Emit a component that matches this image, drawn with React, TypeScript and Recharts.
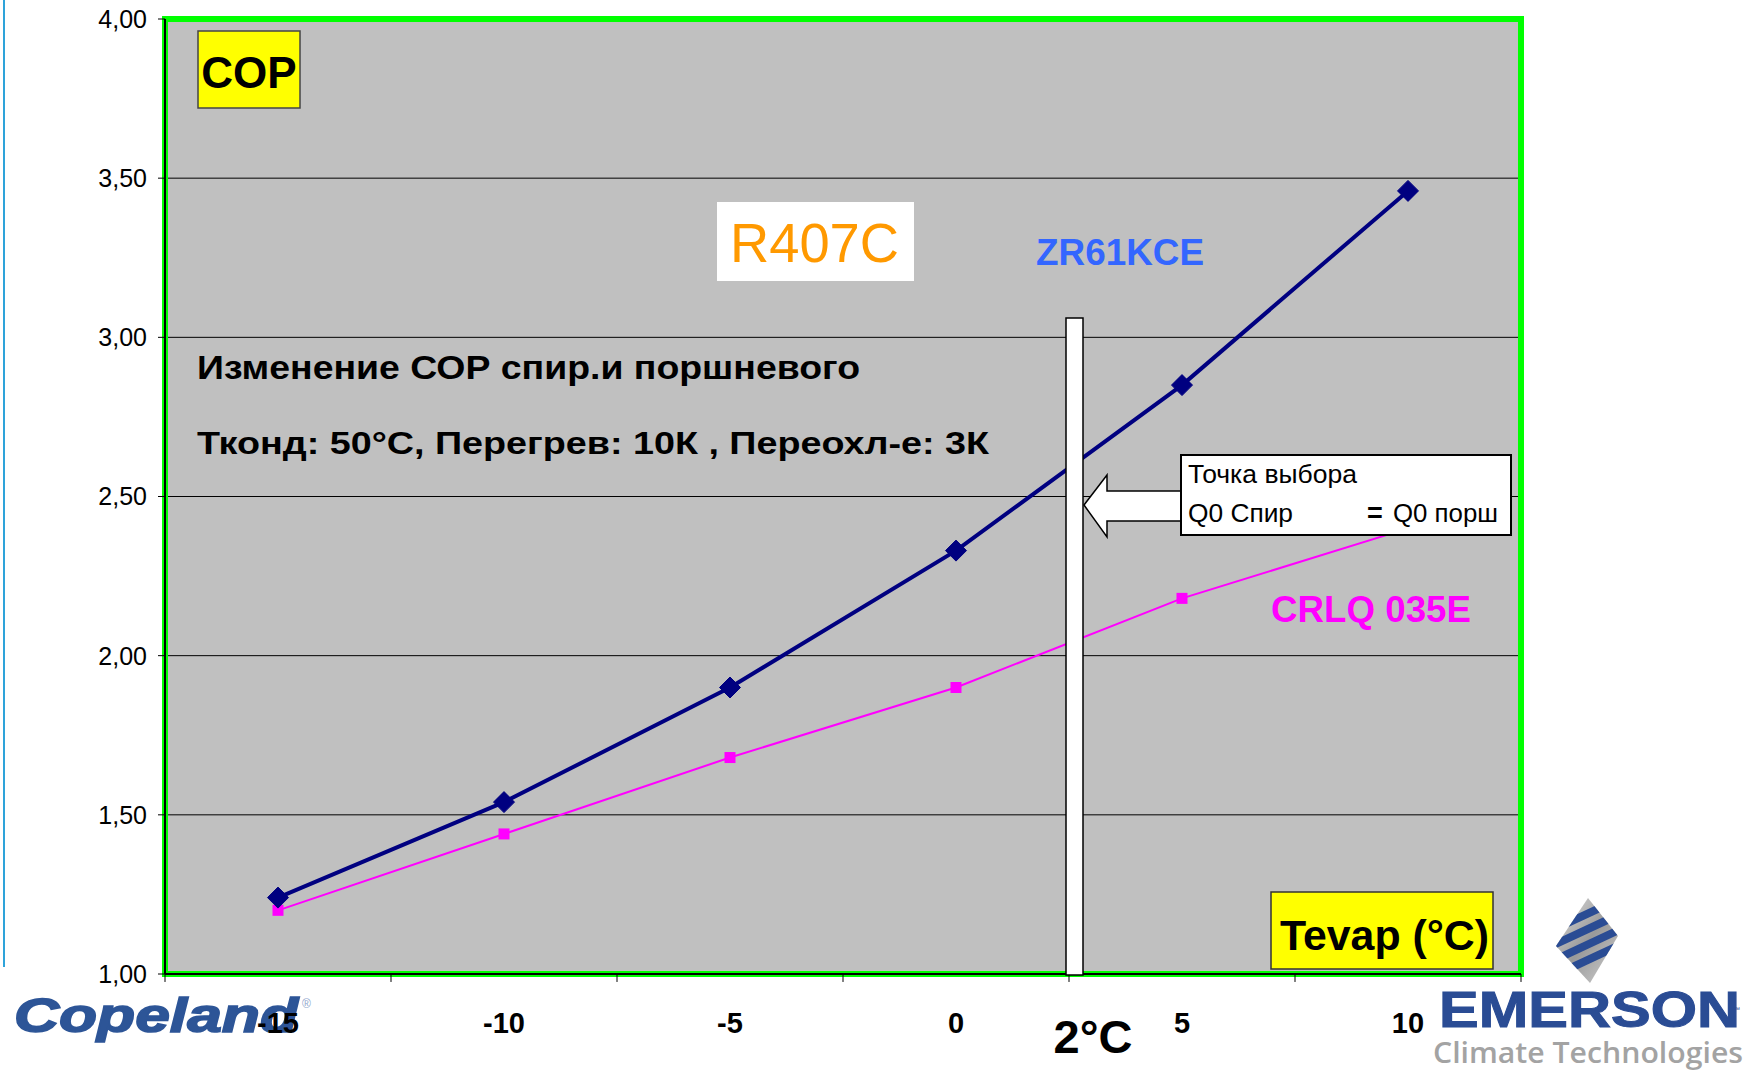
import React from 'react';
import { LineChart, Line, XAxis, YAxis, CartesianGrid, ReferenceArea, ReferenceLine } from 'recharts';

const tevap = [-15, -10, -5, 0, 5, 10];
const zr61kce = [1.24, 1.54, 1.9, 2.33, 2.85, 3.46];
const crlq035e = [1.2, 1.44, 1.68, 1.9, 2.18, 2.4];
const xLabelTicks = [-15, -10, -5, 0, 5, 10];
const xMarkTicks = [-17.5, -12.5, -7.5, -2.5, 2.5, 7.5, 12.5];
const yTicks = [1, 1.5, 2, 2.5, 3, 3.5, 4];
const xDomain = [-17.5, 12.5];
const yDomain = [1, 4];
const tickMarkBottom = 0.975;

const data = tevap.map((t, i) => ({ t, zr: zr61kce[i], crlq: crlq035e[i] }));

const FONT = '"Liberation Sans", Arial, Helvetica, sans-serif';

const Diamond = (props: any) => {
  const { cx, cy, index } = props;
  if (cx == null || cy == null) return <g key={`d${index}`} />;
  const r = 10.5;
  return (
    <polygon
      key={`d${index}`}
      points={`${cx},${cy - r} ${cx + r},${cy} ${cx},${cy + r} ${cx - r},${cy}`}
      fill="#000080"
      stroke="#000080"
    />
  );
};

const Square = (props: any) => {
  const { cx, cy, index } = props;
  if (cx == null || cy == null) return <g key={`s${index}`} />;
  const h = 5.5;
  return <rect key={`s${index}`} x={cx - h} y={cy - h} width={2 * h} height={2 * h} fill="#FF00FF" />;
};

const fmtY = (v: number) => v.toFixed(2).replace('.', ',');

export default function App() {
  return (
    <div style={{ position: 'absolute', left: 0, top: 0, width: 1751, height: 1071, background: '#fff', overflow: 'hidden' }}>
      {/* logos under chart */}
      <svg width={1751} height={1071} style={{ position: 'absolute', left: 0, top: 0 }}>
        <line x1={4} y1={0} x2={4} y2={967} stroke="#2EA3DA" strokeWidth={2} />
        <text x={14} y={1032} fontFamily={FONT} fontSize={48} fontWeight={900} fontStyle="italic" fill="#2D5597" stroke="#2D5597" strokeWidth={1.6} textLength={284} lengthAdjust="spacingAndGlyphs">Copeland</text>
        <text x={302} y={1008} fontFamily={FONT} fontSize={12} fill="#8FA6CC">®</text>
        <defs>
          <clipPath id="emclip">
            <polygon points="1588,898 1618,936 1590,983 1556,946" />
          </clipPath>
          <linearGradient id="silver" x1="0" y1="0" x2="1" y2="1">
            <stop offset="0" stopColor="#E8E8E8" />
            <stop offset="0.5" stopColor="#9A9A9A" />
            <stop offset="1" stopColor="#D8D8D8" />
          </linearGradient>
        </defs>
        <g clipPath="url(#emclip)">
          <rect x={1550} y={895} width={75} height={92} fill="url(#silver)" />
          <g transform="rotate(-25 1588 940)">
            <rect x={1540} y={912} width={100} height={8} fill="#2A4C94" />
            <rect x={1540} y={926} width={100} height={8} fill="#2A4C94" />
            <rect x={1540} y={940} width={100} height={8} fill="#2A4C94" />
            <rect x={1540} y={954} width={100} height={8} fill="#2A4C94" />
          </g>
        </g>
        <text x={1439} y={1027} fontFamily={FONT} fontSize={50} fontWeight={700} fill="#2A4C94" stroke="#2A4C94" strokeWidth={1} textLength={301} lengthAdjust="spacingAndGlyphs">EMERSON</text>
        <text x={1733} y={1012} fontFamily={FONT} fontSize={7} fill="#2A4C94">™</text>
        <text x={1433} y={1063} fontFamily={'"Open Sans", ' + FONT} fontSize={29} fontWeight={600} fill="#A3A3A3" textLength={310} lengthAdjust="spacingAndGlyphs">Climate Technologies</text>
      </svg>

      <div style={{ position: 'absolute', left: 0, top: 0 }}>
        <LineChart width={1751} height={1071} data={data} margin={{ top: 19, right: 230, bottom: 27, left: 0 }}>
          <CartesianGrid vertical={false} stroke="#000" strokeWidth={1} fill="#C0C0C0" fillOpacity={1} />
          <ReferenceArea x1={xDomain[0]} x2={xDomain[1]} y1={yDomain[0]} y2={yDomain[1]} fill="none" fillOpacity={0} stroke="#00FF00" strokeWidth={6} ifOverflow="visible" />
          {xMarkTicks.map((t) => (
            <ReferenceLine
              key={`tm${t}`}
              segment={[{ x: t, y: yDomain[0] }, { x: t, y: tickMarkBottom }]}
              stroke="#000"
              strokeWidth={1}
              ifOverflow="visible"
            />
          ))}
          <XAxis
            type="number"
            dataKey="t"
            domain={xDomain}
            ticks={xLabelTicks}
            interval={0}
            allowDataOverflow
            height={70}
            axisLine={{ stroke: '#000', strokeWidth: 2 }}
            tickLine={false}
            tickSize={0}
            tickMargin={38}
            tick={{ fontSize: 29, fontWeight: 700, fill: '#000', fontFamily: FONT }}
          />
          <YAxis
            type="number"
            domain={yDomain}
            ticks={yTicks}
            interval={0}
            width={165}
            tickFormatter={fmtY}
            tickSize={7}
            tickMargin={11}
            axisLine={{ stroke: '#000', strokeWidth: 2 }}
            tickLine={{ stroke: '#000', strokeWidth: 1 }}
            tick={{ fontSize: 25, fill: '#000', fontFamily: FONT }}
          />
          <Line type="linear" dataKey="crlq" stroke="#FF00FF" strokeWidth={2} dot={Square} activeDot={false} isAnimationActive={false} />
          <Line type="linear" dataKey="zr" stroke="#000080" strokeWidth={4} dot={Diamond} activeDot={false} isAnimationActive={false} />
        </LineChart>
      </div>

      {/* annotations over chart */}
      <svg width={1751} height={1071} style={{ position: 'absolute', left: 0, top: 0, pointerEvents: 'none' }}>
        <rect x={198} y={31} width={102} height={77} fill="#FFFF00" stroke="#444" strokeWidth={1.5} />
        <text x={249} y={88} textAnchor="middle" fontFamily={FONT} fontSize={44} fontWeight={700} fill="#000">COP</text>

        <rect x={717} y={202} width={197} height={79} fill="#FFFFFF" />
        <text x={730} y={262} fontFamily={FONT} fontSize={56} fill="#FF9900" textLength={169} lengthAdjust="spacingAndGlyphs">R407C</text>

        <text x={1036} y={265} fontFamily={FONT} fontSize={37} fontWeight={700} fill="#3366FF" textLength={168} lengthAdjust="spacingAndGlyphs">ZR61KCE</text>
        <text x={1271} y={622} fontFamily={FONT} fontSize={36} fontWeight={700} fill="#FF00FF" textLength={200} lengthAdjust="spacingAndGlyphs">CRLQ 035E</text>

        <text x={197} y={379} fontFamily={FONT} fontSize={33} fontWeight={700} fill="#000" textLength={663} lengthAdjust="spacingAndGlyphs">Изменение СОР спир.и поршневого</text>
        <text x={197} y={454} fontFamily={FONT} fontSize={32} fontWeight={700} fill="#000" textLength={792} lengthAdjust="spacingAndGlyphs">Тконд: 50°С, Перегрев: 10К , Переохл-е: 3К</text>

        <rect x={1066} y={318} width={17} height={657} fill="#FFFFFF" stroke="#000" strokeWidth={1.5} />

        <polygon points="1084,505 1107,475 1107,491 1182,491 1182,521 1107,521 1107,537" fill="#FFFFFF" stroke="#000" strokeWidth={1.5} />
        <rect x={1181} y={455} width={330} height={80} fill="#FFFFFF" stroke="#000" strokeWidth={2} />
        <text x={1188} y={483} fontFamily={FONT} fontSize={25} fill="#000" textLength={169} lengthAdjust="spacingAndGlyphs">Точка выбора</text>
        <text x={1188} y={522} fontFamily={FONT} fontSize={25} fill="#000" textLength={105} lengthAdjust="spacingAndGlyphs">Q0 Спир</text>
        <text x={1367} y={522} fontFamily={FONT} fontSize={27} fontWeight={900} fill="#000">=</text>
        <text x={1393} y={522} fontFamily={FONT} fontSize={25} fill="#000" textLength={105} lengthAdjust="spacingAndGlyphs">Q0 порш</text>

        <rect x={1271} y={892} width={222} height={77} fill="#FFFF00" stroke="#333" strokeWidth={1.5} />
        <text x={1280} y={950} fontFamily={FONT} fontSize={42} fontWeight={700} fill="#000" textLength={209} lengthAdjust="spacingAndGlyphs">Tevap (°C)</text>

        <text x={1093} y={1053} textAnchor="middle" fontFamily={FONT} fontSize={47} fontWeight={700} fill="#000">2°C</text>
      </svg>
    </div>
  );
}
